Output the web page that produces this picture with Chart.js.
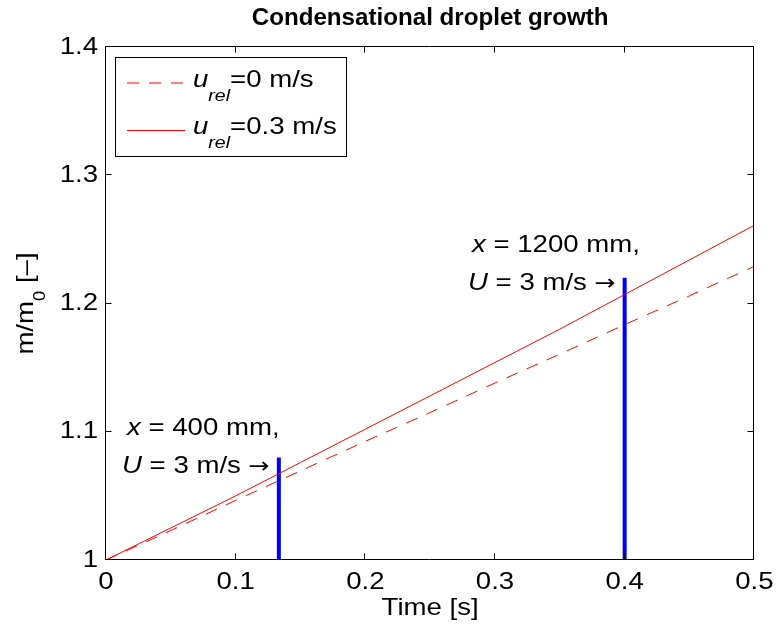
<!DOCTYPE html>
<html><head><meta charset="utf-8">
<script src="https://cdn.jsdelivr.net/npm/chart.js@4/dist/chart.umd.min.js"></script>
<style>html,body{margin:0;padding:0;background:#fff;}</style>
</head><body>
<canvas id="c" width="779" height="633" style="display:block;width:779px;height:633px"></canvas>
<script>
// ---- data ----
const timeS = [0, 0.05, 0.1, 0.15, 0.2, 0.25, 0.3, 0.35, 0.4, 0.45, 0.5];
const massRatioUrel0  = [1.000, 1.023, 1.0465, 1.0695, 1.0925, 1.115, 1.138, 1.1605, 1.1835, 1.206, 1.229];
const massRatioUrel03 = [1.000, 1.025, 1.050, 1.076, 1.102, 1.128, 1.154, 1.180, 1.207, 1.234, 1.261];
const markerTimes = [0.1333, 0.4];
const markerTops = [1.08, 1.22];
const xTickLabels = ['0', '0.1', '0.2', '0.3', '0.4', '0.5'];
const yTickLabels = ['1', '1.1', '1.2', '1.3', '1.4'];
const chartTitle = 'Condensational droplet growth';
const xAxisTitle = 'Time [s]';
const seriesValues = ['0 m/s', '0.3 m/s'];

// ---- styling / layout ----
const FAM = '"Liberation Sans", Arial, Helvetica, sans-serif';
const ARROWFAM = '"DejaVu Sans", sans-serif';
const SX = 1.15;
const canvas = document.getElementById('c');
const ctx0 = canvas.getContext('2d');
const nativeFill = ctx0.fillText;
ctx0.__sx = SX;
ctx0.fillText = function (t, x, y) {
  this.save();
  this.translate(x, y);
  this.scale(this.__sx || 1, 1);
  nativeFill.call(this, t, 0, 0);
  this.restore();
};
function runsWidth(ctx, runs) {
  let w = 0;
  for (const r of runs) { ctx.font = r.font; w += ctx.measureText(r.t).width * ctx.__sx; }
  return w;
}
function drawRuns(ctx, runs, x, y) {
  ctx.textAlign = 'left';
  ctx.textBaseline = 'alphabetic';
  let cx = x;
  for (const r of runs) {
    ctx.font = r.font;
    ctx.fillText(r.t, cx, y + (r.dy || 0));
    cx += ctx.measureText(r.t).width * ctx.__sx;
  }
}
const F = (s, st) => (st || '') + ' ' + s + 'px ' + FAM;
const FA = s => s + 'px ' + ARROWFAM;

const annotationText = [
  { x: 127, y: 435, runs: [{ t: 'x', font: F(24, 'italic') }, { t: ' = 400 mm,', font: F(24) }] },
  { x: 122, y: 473, runs: [{ t: 'U', font: F(24, 'italic') }, { t: ' = 3 m/s ', font: F(24) }, { t: '\u2192', font: FA(22) }] },
  { x: 472, y: 252, runs: [{ t: 'x', font: F(24, 'italic') }, { t: ' = 1200 mm,', font: F(24) }] },
  { x: 468, y: 290, runs: [{ t: 'U', font: F(24, 'italic') }, { t: ' = 3 m/s ', font: F(24) }, { t: '\u2192', font: FA(22) }] }
];

const decor = {
  id: 'decor',
  afterDatasetsDraw(chart) {
    const ctx = chart.ctx;
    const a = chart.chartArea;
    const xs = chart.scales.x, ys = chart.scales.y;
    ctx.save();
    ctx.strokeStyle = '#000';
    ctx.lineWidth = 1;
    const L = Math.round(a.left) - 0.5, R = Math.round(a.right) - 0.5;
    const T = Math.round(a.top) - 0.5, B = Math.round(a.bottom) - 0.5;
    ctx.beginPath();
    ctx.rect(L, T, R - L, B - T);
    ctx.stroke();
    ctx.beginPath();
    xs.ticks.forEach(t => {
      const p = Math.round(xs.getPixelForValue(t.value)) - 0.5;
      ctx.moveTo(p, B); ctx.lineTo(p, B - 6);
      ctx.moveTo(p, T); ctx.lineTo(p, T + 6);
    });
    ys.ticks.forEach(t => {
      const p = Math.round(ys.getPixelForValue(t.value)) - 0.5;
      ctx.moveTo(L, p); ctx.lineTo(L + 6, p);
      ctx.moveTo(R, p); ctx.lineTo(R - 6, p);
    });
    ctx.stroke();
    ctx.restore();
  },
  afterDraw(chart) {
    const ctx = chart.ctx;
    const a = chart.chartArea;
    ctx.save();
    ctx.fillStyle = '#000';
    // title
    ctx.__sx = 1.05;
    ctx.font = F(23, 'bold');
    ctx.textAlign = 'center';
    ctx.textBaseline = 'alphabetic';
    ctx.fillText(chartTitle, (a.left + a.right) / 2, 25);
    ctx.__sx = SX;
    // y axis title with subscript
    ctx.save();
    ctx.translate(33, (a.top + a.bottom) / 2);
    ctx.rotate(-Math.PI / 2);
    const yRuns = [{ t: 'm/m', font: F(24) }, { t: '0', font: F(16), dy: 12 }, { t: ' [\u2013]', font: F(24) }];
    drawRuns(ctx, yRuns, -runsWidth(ctx, yRuns) / 2, 0);
    ctx.restore();
    // annotations
    annotationText.forEach(an => drawRuns(ctx, an.runs, an.x, an.y));
    // legend box
    ctx.fillStyle = '#fff';
    ctx.fillRect(115.5, 57.5, 231, 99);
    ctx.strokeStyle = '#000';
    ctx.lineWidth = 1;
    ctx.strokeRect(115.5, 57.5, 231, 99);
    const rows = [{ ly: 83, ty: 86.7 }, { ly: 130.5, ty: 134 }];
    chart.data.datasets.slice(0, 2).forEach((ds, i) => {
      ctx.beginPath();
      ctx.strokeStyle = ds.borderColor;
      ctx.lineWidth = 1;
      ctx.setLineDash(ds.borderDash || []);
      ctx.moveTo(127, rows[i].ly);
      ctx.lineTo(185, rows[i].ly);
      ctx.stroke();
      ctx.setLineDash([]);
      ctx.fillStyle = '#000';
      drawRuns(ctx, [
        { t: 'u', font: F(24, 'italic') },
        { t: 'rel', font: F(17, 'italic'), dy: 14 },
        { t: '=' + seriesValues[i], font: F(24) }
      ], 193, rows[i].ty);
    });
    ctx.restore();
  }
};

const pts = (xsArr, ysArr) => xsArr.map((t, i) => ({ x: t, y: ysArr[i] }));

new Chart(ctx0, {
  type: 'line',
  data: {
    datasets: [
      { label: 'u_rel=0 m/s', data: pts(timeS, massRatioUrel0), borderColor: '#ff0000', borderWidth: 1, borderDash: [12, 10], pointRadius: 0, fill: false, tension: 0 },
      { label: 'u_rel=0.3 m/s', data: pts(timeS, massRatioUrel03), borderColor: '#ff0000', borderWidth: 1, pointRadius: 0, fill: false, tension: 0 },
      { label: 'x = 400 mm', data: [{ x: markerTimes[0], y: 1 }, { x: markerTimes[0], y: markerTops[0] }], borderColor: '#0000ff', borderWidth: 4, pointRadius: 0, fill: false },
      { label: 'x = 1200 mm', data: [{ x: markerTimes[1], y: 1 }, { x: markerTimes[1], y: markerTops[1] }], borderColor: '#0000ff', borderWidth: 4, pointRadius: 0, fill: false }
    ]
  },
  options: {
    responsive: false,
    animation: false,
    devicePixelRatio: 1,
    layout: { padding: { top: 47, right: 22, bottom: 0, left: 0 } },
    plugins: { legend: { display: false }, tooltip: { enabled: false }, title: { display: false } },
    scales: {
      x: {
        type: 'linear', min: 0, max: 0.5,
        grid: { display: false, drawTicks: false },
        border: { display: false },
        ticks: { stepSize: 0.1, autoSkip: false, maxRotation: 0, padding: 8, color: '#000',
          font: { size: 24, family: FAM },
          callback: v => xTickLabels[Math.round(v * 10)] },
        title: { display: true, text: xAxisTitle, color: '#000', font: { size: 24, family: FAM }, padding: { top: 0, bottom: 10 } },
        afterFit: s => { s.height = 73; }
      },
      y: {
        type: 'linear', min: 1, max: 1.4,
        grid: { display: false, drawTicks: false },
        border: { display: false },
        ticks: { stepSize: 0.1, autoSkip: false, padding: 8, color: '#000',
          font: { size: 24, family: FAM },
          callback: v => yTickLabels[Math.round((v - 1) * 10)] },
        afterFit: s => { s.width = 106; }
      }
    }
  },
  plugins: [decor]
});
</script>
</body></html>
